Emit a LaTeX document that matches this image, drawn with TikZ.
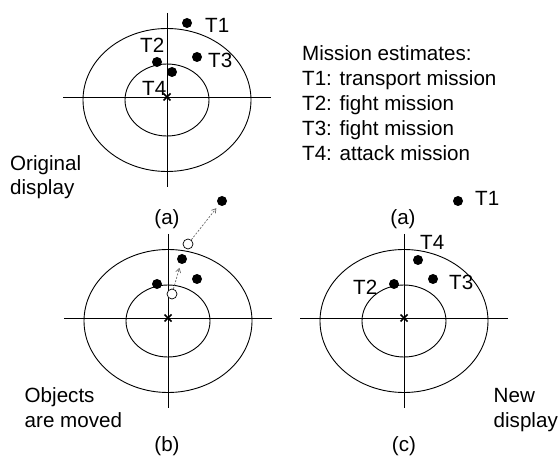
\documentclass[tikz,border=0pt]{standalone}
\usepackage{fontspec}
\setmainfont{Liberation Sans}
\usetikzlibrary{arrows.meta,calc}
\tikzset{
  ring/.style={line width=0.9pt},
  axisline/.style={line width=0.9pt},
  ownship/.style={line width=1.6pt},
  target/.style={circle,fill=black,inner sep=0pt,minimum size=10pt},
  ghost/.style={circle,draw=black,fill=white,line width=0.7pt,inner sep=0pt,minimum size=10pt},
  tag/.style={inner sep=0pt,anchor=west},
  caption/.style={inner sep=0pt},
  textline/.style={inner sep=0pt,anchor=base west},
  movearrow/.style={draw=black!60,line width=0.7pt,dash pattern=on 2pt off 1.5pt,
    -{Straight Barb[length=4pt,width=5pt]},shorten >=4pt},
  scopeview/.pic={
    \draw[ring] (0,3) ellipse [x radius=84,y radius=71.5];
    \draw[ring] (0,3) ellipse [x radius=42,y radius=36];
    \draw[axisline] (-104,0) -- (104,0);
    \draw[axisline] (0,-84) -- (0,90);
    \draw[ownship] (-3.5,-3.5) -- (3.5,3.5) (-3.5,3.5) -- (3.5,-3.5);
  }
}
\begin{document}
\begin{tikzpicture}[x=1pt,y=-1pt,font=\fontsize{20.6}{25}\selectfont]
\useasboundingbox (0,0) rectangle (560,457);

% three radar scopes
\pic at (167,97) {scopeview};
\pic at (168,318) {scopeview};
\pic at (404,318) {scopeview};

% (a) original display
\node[target] (a1) at (187,23) {};
\node[target] (a2) at (157,62) {};
\node[target] (a3) at (197,57) {};
\node[target] (a4) at (172,72) {};
\node[tag] (a1t) at (205,25) {T1};
\node[tag] (a2t) at (140,45) {T2};
\node[tag] (a3t) at (208,60) {T3};
\node[tag] (a4t) at (142,88) {T4};
\node[caption] (capa) at (167,219) {(a)};

\node[textline] (orig1) at (10,171) {Original};
\node[textline] (orig2) at (10,195) {display};

% mission estimates
\node[textline] (me0) at (302,61) {Mission estimates:};
\node[textline] (me1) at (302,86) {T1: transport mission};
\node[textline] (me2) at (302,111) {T2: fight mission};
\node[textline] (me3) at (302,136) {T3: fight mission};
\node[textline] (me4) at (302,161) {T4: attack mission};

% (b) objects are moved
\node[ghost] (b1o) at (188,244) {};
\node[ghost] (b4o) at (172,294) {};
\node[target] (b1) at (222,201) {};
\node[target] (b4) at (182,259) {};
\node[target] (b2) at (157,284) {};
\node[target] (b3) at (197,279) {};
\draw[movearrow] (b4o) -- (b4);
\draw[movearrow] (b1o) -- (b1);
\node[caption] (capb) at (167,446) {(b)};
\node[textline] (mov1) at (24.5,402) {Objects};
\node[textline] (mov2) at (24.5,427) {are moved};

% (c) new display
\node[target] (c1) at (458,201) {};
\node[target] (c4) at (418,260) {};
\node[target] (c3) at (433,279) {};
\node[target] (c2) at (394,284) {};
\node[tag] (c1t) at (475,198) {T1};
\node[tag] (c4t) at (420,242) {T4};
\node[tag] (c3t) at (449,282) {T3};
\node[tag] (c2t) at (353,287) {T2};
\node[caption] (capc0) at (403,219) {(a)};
\node[caption] (capc) at (404,446) {(c)};
\node[textline] (new1) at (493.5,402) {New};
\node[textline] (new2) at (493.5,427) {display};
\end{tikzpicture}
\end{document}
